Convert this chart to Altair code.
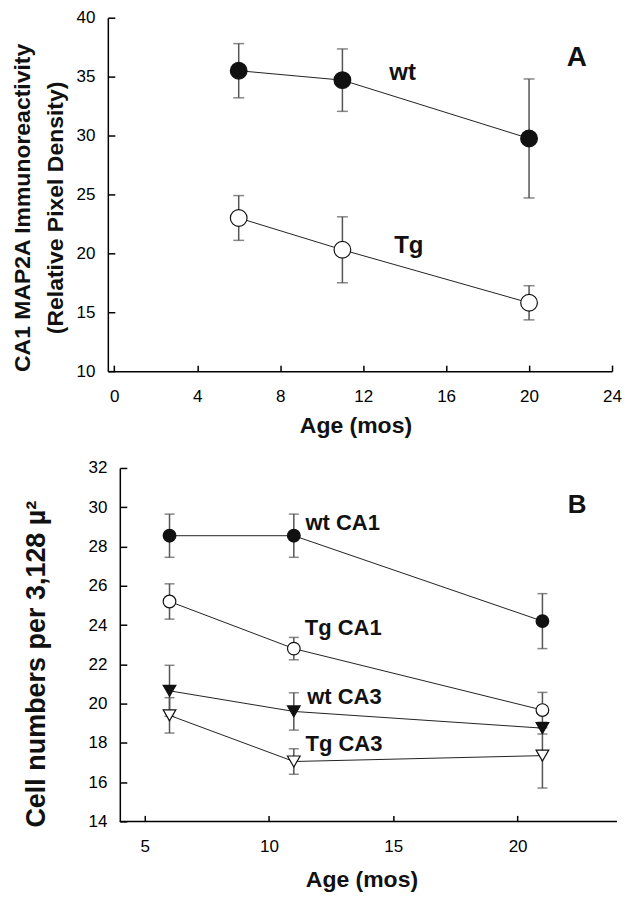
import altair as alt
import pandas as pd

FONT = "Liberation Sans"

# ---------------- Panel A data ----------------
series_a = ["wt", "Tg"]
age_a = [6, 11, 20]
wt_a = [35.5, 34.7, 29.75]
wt_a_err = [2.3, 2.65, 5.05]
tg_a = [23.0, 20.3, 15.8]
tg_a_err = [1.9, 2.8, 1.45]

label_a_text = ["wt", "Tg"]
label_a_x = [13.9, 14.2]
label_a_y = [35.3, 20.6]

# ---------------- Panel B data ----------------
series_b = ["wt CA1", "Tg CA1", "wt CA3", "Tg CA3"]
age_b = [6, 11, 21]
wt_ca1 = [28.55, 28.55, 24.2]
wt_ca1_err = [1.1, 1.1, 1.4]
tg_ca1 = [25.2, 22.8, 19.67]
tg_ca1_err = [0.9, 0.57, 0.9]
wt_ca3 = [20.65, 19.6, 18.75]
wt_ca3_err = [1.3, 0.95, 0.3]
tg_ca3 = [19.4, 17.05, 17.35]
tg_ca3_err = [0.9, 0.65, 1.65]

label_b_text = ["wt CA1", "Tg CA1", "wt CA3", "Tg CA3"]
label_b_x = [11.47, 11.44, 11.54, 11.47]
label_b_y = [29.2, 23.85, 20.35, 17.95]

# axis tick values / extents
xa_ticks = [0, 4, 8, 12, 16, 20, 24]
ya_ticks = [10, 15, 20, 25, 30, 35, 40]
xb_ticks = [5, 10, 15, 20]
yb_ticks = [14, 16, 18, 20, 22, 24, 26, 28, 30, 32]
xb_axis_from, xb_axis_to, yb_axis_at = 4, 24, 14


def rows(series, ages, means, errs):
    out = []
    for s, m, e in zip(series, means, errs):
        for a, v, d in zip(ages, m, e):
            out.append({"series": s, "age": a, "mean": v, "lo": v - d, "hi": v + d})
    return pd.DataFrame(out)


df_a = rows(series_a, age_a, [wt_a, tg_a], [wt_a_err, tg_a_err])
df_b = rows(series_b, age_b, [wt_ca1, tg_ca1, wt_ca3, tg_ca3],
            [wt_ca1_err, tg_ca1_err, wt_ca3_err, tg_ca3_err])
lab_a = pd.DataFrame({"label": label_a_text, "x": label_a_x, "y": label_a_y})
lab_b = pd.DataFrame({"label": label_b_text, "x": label_b_x, "y": label_b_y})
let_a = pd.DataFrame({"label": ["A"], "x": [22.3], "y": [36.6]})
let_b = pd.DataFrame({"label": ["B"], "x": [22.4], "y": [30.1]})
xb_line = pd.DataFrame({"x": [xb_axis_from], "x2": [xb_axis_to], "y": [yb_axis_at]})


def panel(df, lab, let, series, fills, shapes, xs, ys, xvals, yvals, w, h,
          ytitle, ytitle_x, ytitle_y, ysize, xtitle_x, xtitle_y, yoff,
          msize, capsize, labsize, letsize, x_domain_line):
    x_main = alt.Axis(values=xvals, orient="bottom", ticks=False, tickSize=0,
                      labelPadding=17, domain=not x_domain_line, title="Age (mos)",
                      titleFontSize=23, titleX=xtitle_x, titleY=xtitle_y,
                      titleBaseline="alphabetic")
    x_tick = alt.Axis(values=xvals, orient="bottom", offset=-6, tickSize=6,
                      labels=False, domain=False, title=None)
    y_main = alt.Axis(values=yvals, orient="left", ticks=False, tickSize=0,
                      labelPadding=13, offset=yoff, title=ytitle,
                      titleFontSize=ysize, titleLineHeight=33,
                      titleX=ytitle_x, titleY=ytitle_y)
    y_tick = alt.Axis(values=yvals, orient="left", offset=yoff - 7, tickSize=7,
                      labels=False, domain=False, title=None)

    base = alt.Chart(df)
    err = base.mark_errorbar(ticks=True, size=capsize, thickness=1.5, color="#555").encode(
        x=alt.X("age:Q", scale=xs, axis=None),
        y=alt.Y("lo:Q", scale=ys, axis=None),
        y2="hi:Q",
    )
    line = base.mark_line(color="#222", strokeWidth=1).encode(
        x=alt.X("age:Q", scale=xs, axis=x_main),
        y=alt.Y("mean:Q", scale=ys, axis=y_main),
        detail="series:N",
    )
    pts = base.mark_point(filled=True, size=msize, stroke="#111", strokeWidth=1.2,
                          opacity=1).encode(
        x=alt.X("age:Q", scale=xs, axis=None),
        y=alt.Y("mean:Q", scale=ys, axis=None),
        fill=alt.Fill("series:N", scale=alt.Scale(domain=series, range=fills), legend=None),
        shape=alt.Shape("series:N", scale=alt.Scale(domain=series, range=shapes), legend=None),
    )
    tick_layer = base.mark_point(opacity=0).encode(
        x=alt.X("age:Q", scale=xs, axis=x_tick),
        y=alt.Y("mean:Q", scale=ys, axis=y_tick),
    )
    align = "left" if len(series) > 2 else "center"
    txt = alt.Chart(lab).mark_text(font=FONT, fontSize=labsize, fontWeight="bold",
                                   color="#111", align=align, baseline="middle").encode(
        x=alt.X("x:Q", scale=xs, axis=None),
        y=alt.Y("y:Q", scale=ys, axis=None),
        text="label:N",
    )
    letter = alt.Chart(let).mark_text(font=FONT, fontSize=letsize, fontWeight="bold",
                                      color="#111", align="center", baseline="middle").encode(
        x=alt.X("x:Q", scale=xs, axis=None),
        y=alt.Y("y:Q", scale=ys, axis=None),
        text="label:N",
    )
    layers = [err, line, pts, tick_layer, txt, letter]
    if x_domain_line:
        rule = alt.Chart(xb_line).mark_rule(color="black", strokeWidth=1.5).encode(
            x=alt.X("x:Q", scale=xs, axis=None),
            x2="x2:Q",
            y=alt.Y("y:Q", scale=ys, axis=None),
        )
        layers.append(rule)
    return alt.layer(*layers).resolve_axis(x="independent", y="independent").properties(
        width=w, height=h)


xs_a = alt.Scale(domain=[-0.31, 24], nice=False, zero=False)
ys_a = alt.Scale(domain=[10, 40], nice=False, zero=False)
xs_b = alt.Scale(domain=[3.519, 24], nice=False, zero=False)
ys_b = alt.Scale(domain=[14, 32], nice=False, zero=False)

chart_a = panel(df_a, lab_a, let_a, series_a, ["#111", "white"], ["circle", "circle"],
                xs_a, ys_a, xa_ticks, ya_ticks, 505, 354,
                ["CA1 MAP2A Immunoreactivity", "(Relative Pixel Density)"], -73, 190, 23,
                248, 61, 0, 279, 11, 24, 28, False)
chart_b = panel(df_b, lab_b, let_b, series_b, ["#111", "white", "#111", "white"],
                ["circle", "circle", "triangle-down", "triangle-down"],
                xs_b, ys_b, xb_ticks, yb_ticks, 510, 354,
                "Cell numbers per 3,128 \u00b5\u00b2", -69, 196, 27,
                254, 65.6, -12, 161, 10, 22, 26, True)

chart = alt.vconcat(chart_a, chart_b, spacing=22).resolve_scale(
    fill="independent", shape="independent"
).properties(
    padding={"left": 3, "top": 0, "right": 0, "bottom": 0}, background="white"
).configure_view(stroke=None).configure_axis(
    labelFont=FONT, labelFontSize=17, labelColor="black",
    titleFont=FONT, titleColor="#111", titleFontWeight="bold",
    domainColor="black", domainWidth=1.5, tickColor="black", tickWidth=1.5,
    grid=False, labelFlush=False, labelOverlap=False,
)

chart.save("out.html", embed_options={"renderer": "svg", "actions": False})
